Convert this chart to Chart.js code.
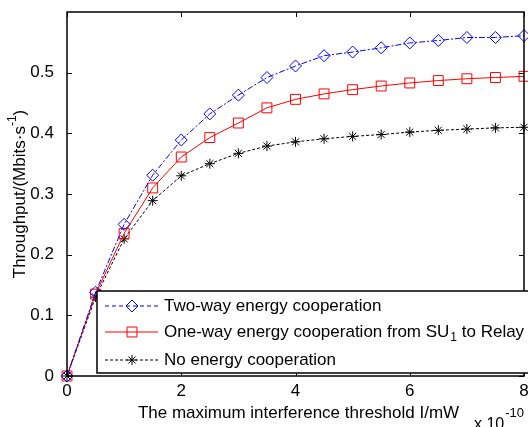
<!DOCTYPE html>
<html>
<head>
<meta charset="utf-8">
<script src="https://cdn.jsdelivr.net/npm/chart.js@4"></script>
<style>
html, body { margin: 0; padding: 0; background: #fff; overflow: hidden; }
canvas { display: block; }
</style>
</head>
<body>
<!-- a little wider than the window: the legend box runs off the right edge, as in the figure -->
<canvas id="chart" width="532" height="427"></canvas>
<script>
// data
const xValues = [0, 0.5, 1, 1.5, 2, 2.5, 3, 3.5, 4, 4.5, 5, 5.5, 6, 6.5, 7, 7.5, 8];
const twoWay = [0, 0.138, 0.250, 0.331, 0.389, 0.432, 0.463, 0.492, 0.511, 0.528, 0.534, 0.541, 0.549, 0.553, 0.558, 0.558, 0.561];
const oneWay = [0, 0.135, 0.235, 0.310, 0.361, 0.393, 0.417, 0.442, 0.456, 0.465, 0.472, 0.478, 0.483, 0.487, 0.490, 0.492, 0.494];
const noCoop = [0, 0.130, 0.226, 0.289, 0.330, 0.350, 0.367, 0.379, 0.386, 0.391, 0.395, 0.398, 0.402, 0.405, 0.407, 0.409, 0.410];
const xTicks = [0, 2, 4, 6, 8];
const yTicks = [0, 0.1, 0.2, 0.3, 0.4, 0.5];
const FONT = "Arial, 'Liberation Sans', sans-serif";

function pts(ys) {
  return xValues.map((x, i) => ({ x: x, y: ys[i] }));
}

// legend entries (label parts: [text, subscript, text])
const legendItems = [
  { parts: ["Two-way energy cooperation"], color: "#0000ff", dash: [4, 3], style: "rectRot", r: 6 },
  { parts: ["One-way energy cooperation from SU", "1", " to Relay"], color: "#ff0000", dash: [], style: "rect", r: 7 },
  { parts: ["No energy cooperation"], color: "#000000", dash: [3, 2], style: "star", r: 5 }
];

// frame, inward ticks, x tick labels, axis titles, legend
const decor = {
  id: "decor",
  afterDatasetsDraw(chart) {
    const ctx = chart.ctx;
    const a = chart.chartArea;
    const xs = chart.scales.x, ys = chart.scales.y;
    ctx.save();
    ctx.strokeStyle = "#000";
    ctx.lineWidth = 1.5;
    ctx.setLineDash([]);
    ctx.strokeRect(a.left, a.top, a.right - a.left, a.bottom - a.top);
    ctx.lineWidth = 1;
    ctx.beginPath();
    xTicks.forEach(v => {
      const px = Math.round(xs.getPixelForValue(v)) + 0.5;
      ctx.moveTo(px, a.bottom); ctx.lineTo(px, a.bottom - 5);
      ctx.moveTo(px, a.top); ctx.lineTo(px, a.top + 5);
    });
    yTicks.forEach(v => {
      const py = Math.round(ys.getPixelForValue(v)) + 0.5;
      ctx.moveTo(a.left, py); ctx.lineTo(a.left + 5, py);
      ctx.moveTo(a.right, py); ctx.lineTo(a.right - 5, py);
    });
    ctx.stroke();

    // x tick labels
    ctx.fillStyle = "#000";
    ctx.font = "17px " + FONT;
    ctx.textAlign = "center";
    ctx.textBaseline = "middle";
    xTicks.forEach(v => ctx.fillText(String(v), xs.getPixelForValue(v), 391));

    // x title
    ctx.fillText("The maximum interference threshold I/mW", (a.left + a.right) / 2 + 3, 413);

    // exponent
    ctx.textAlign = "left";
    ctx.textBaseline = "alphabetic";
    ctx.font = "16px " + FONT;
    ctx.fillText("x 10", 474, 429);
    const w10 = ctx.measureText("x 10").width;
    ctx.font = "13px " + FONT;
    ctx.fillText("-10", 474 + w10 + 1, 417);

    // y title, rotated with superscript
    ctx.save();
    ctx.translate(20, (a.top + a.bottom) / 2);
    ctx.rotate(-Math.PI / 2);
    ctx.font = "17px " + FONT;
    const t1 = "Throughput/(Mbits\u00b7s", t2 = "-1", t3 = ")";
    const w1 = ctx.measureText(t1).width, w3 = ctx.measureText(t3).width;
    ctx.font = "12px " + FONT;
    const w2 = ctx.measureText(t2).width;
    let x0 = -(w1 + w2 + w3) / 2;
    ctx.textBaseline = "middle";
    ctx.font = "17px " + FONT;
    ctx.fillText(t1, x0, 0);
    ctx.font = "12px " + FONT;
    ctx.fillText(t2, x0 + w1, -7);
    ctx.font = "17px " + FONT;
    ctx.fillText(t3, x0 + w1 + w2, 0);
    ctx.restore();

    // legend box
    ctx.fillStyle = "#fff";
    ctx.fillRect(97, 291, 450, 82);
    ctx.strokeStyle = "#000";
    ctx.lineWidth = 1.5;
    ctx.strokeRect(97, 291, 450, 82);
    const rowY = [306, 332, 360];
    legendItems.forEach((it, i) => {
      const y = rowY[i];
      ctx.strokeStyle = it.color;
      ctx.lineWidth = 1;
      ctx.setLineDash(it.dash);
      ctx.beginPath();
      ctx.moveTo(105, y); ctx.lineTo(158, y);
      ctx.stroke();
      ctx.setLineDash([]);
      ctx.fillStyle = "rgba(0,0,0,0)";
      ctx.strokeStyle = it.color;
      Chart.helpers.drawPoint(ctx, { pointStyle: it.style, radius: it.r, borderWidth: 1 }, 132, y);
      ctx.fillStyle = "#000";
      ctx.textBaseline = "middle";
      ctx.textAlign = "left";
      let tx = 164;
      it.parts.forEach((p, k) => {
        if (k === 1) {
          ctx.font = "12px " + FONT;
          ctx.fillText(p, tx + 1, y + 6);
          tx += ctx.measureText(p).width + 1;
        } else {
          ctx.font = "17px " + FONT;
          ctx.fillText(p, tx, y);
          tx += ctx.measureText(p).width;
        }
      });
    });
    ctx.restore();
  }
};

new Chart(document.getElementById("chart"), {
  type: "line",
  data: {
    datasets: [
      {
        label: "Two-way energy cooperation",
        data: pts(twoWay),
        borderColor: "#0000ff",
        borderWidth: 1,
        borderDash: [6, 2, 2, 2],
        pointStyle: "rectRot",
        pointRadius: 6,
        pointBorderColor: "#0000ff",
        pointBackgroundColor: "rgba(0,0,0,0)",
        pointBorderWidth: 1,
        fill: false,
        clip: false
      },
      {
        label: "One-way energy cooperation from SU1 to Relay",
        data: pts(oneWay),
        borderColor: "#ff0000",
        borderWidth: 1,
        pointStyle: "rect",
        pointRadius: 7,
        pointBorderColor: "#ff0000",
        pointBackgroundColor: "rgba(0,0,0,0)",
        pointBorderWidth: 1,
        fill: false,
        clip: false
      },
      {
        label: "No energy cooperation",
        data: pts(noCoop),
        borderColor: "#000000",
        borderWidth: 1,
        borderDash: [3, 2],
        pointStyle: "star",
        pointRadius: 5,
        pointBorderColor: "#000000",
        pointBorderWidth: 1,
        fill: false,
        clip: false
      }
    ]
  },
  options: {
    responsive: false,
    animation: false,
    devicePixelRatio: 1,
    layout: { padding: { top: 12, right: 0, left: 0, bottom: 0 } },
    plugins: { legend: { display: false }, tooltip: { enabled: false } },
    scales: {
      x: {
        type: "linear",
        min: 0,
        max: 8,
        grid: { display: false },
        border: { display: false },
        afterBuildTicks: s => { s.ticks = xTicks.map(v => ({ value: v })); },
        afterFit: s => { s.height = 51; },
        ticks: { display: false }
      },
      y: {
        type: "linear",
        min: 0,
        max: 0.6,
        grid: { display: false },
        border: { display: false },
        afterBuildTicks: s => { s.ticks = yTicks.map(v => ({ value: v })); },
        afterFit: s => { s.width = 67; s.paddingTop = 0; s.paddingBottom = 0; },
        ticks: {
          padding: 5,
          color: "#000",
          font: { family: FONT, size: 17 },
          callback: v => String(Math.round(v * 10) / 10)
        }
      }
    }
  },
  plugins: [decor]
});
</script>
</body>
</html>
